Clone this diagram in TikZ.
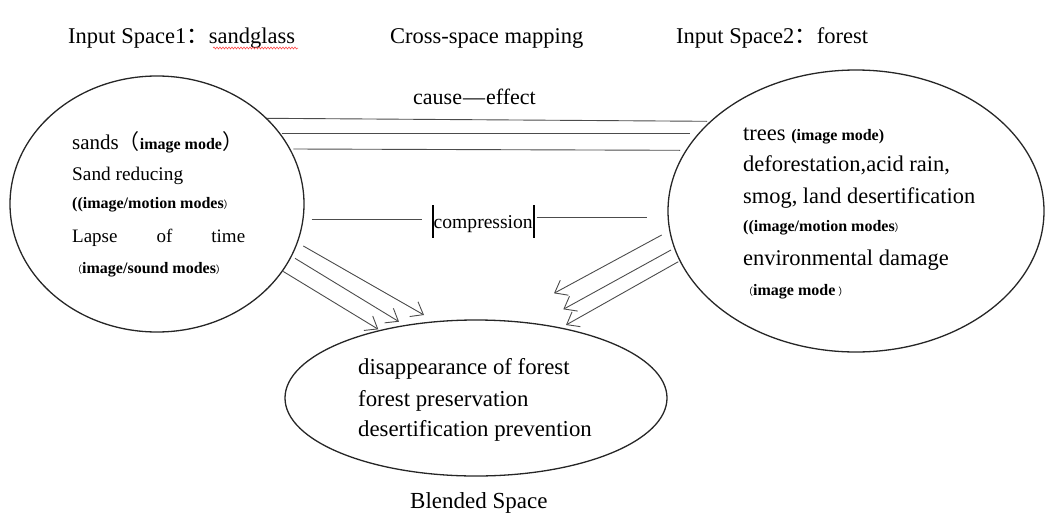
\documentclass[tikz,border=0pt]{standalone}
\usepackage{fontspec}
\setmainfont{Liberation Serif}
\newfontfamily\cjk{Noto Sans CJK SC}
\usetikzlibrary{shapes.geometric,arrows.meta,decorations.pathmorphing}
\newcommand\md[1]{{\bfseries\fontsize{16}{16}\selectfont #1}}
\newcommand\flp{{\cjk （}}
\newcommand\frp{{\cjk ）}}
\newcommand\fcol{{\cjk ：}}
\newcommand\sz[1]{\fontsize{#1}{#1}\selectfont}
\begin{document}
\begin{tikzpicture}[x=1pt,y=-1pt,
  ell/.style={draw=black!85, line width=1.3pt, ellipse, inner sep=0pt},
  txt/.style={anchor=base west, inner sep=0pt, text=black, font=\rmfamily},
  link/.style={draw=black!70, line width=0.9pt},
  arr/.style={draw=black!70, line width=0.9pt, -{Straight Barb[length=11pt,width=17pt,line width=0.9pt]}},
  bar/.style={draw=black, line width=2.2pt}]
\useasboundingbox (0,0) rectangle (1046,514);
% ellipses
\node[ell, minimum width=294pt, minimum height=256pt] (L) at (157,204) {};
\node[ell, minimum width=376pt, minimum height=282pt] (R) at (856,211) {};
\node[ell, minimum width=382pt, minimum height=156pt] (B) at (476,398) {};
% headers
\node[txt] (h1) at (68,43) {\sz{22.5}Input Space1\fcol sandglass};
\node[txt] (h2) at (390,43) {\sz{22.5}Cross-space mapping};
\node[txt] (h3) at (676,43) {\sz{22.5}Input Space2\fcol forest};
\draw[red!80, line width=0.5pt, decorate, decoration={snake, amplitude=1pt, segment length=3pt}] (213,48) -- (298,48);
% cause-effect
\node[txt] (ce) at (413,104) {\sz{22}cause\kern1pt---\kern1pt effect};
\coordinate (a1) at (267,118.3); \coordinate (b1) at (707,121.3);
\coordinate (a2) at (281.7,133.3); \coordinate (b2) at (690,133.3);
\coordinate (a3) at (293.3,149); \coordinate (b3) at (680,150.3);
\draw[link] (a1) -- (b1);
\draw[link] (a2) -- (b2);
\draw[link] (a3) -- (b3);
% compression
\node[txt] (cp) at (433.5,228.3) {\sz{19.6}compression};
\coordinate (c1) at (311.7,219.3); \coordinate (c2) at (421.7,219.3);
\coordinate (c3) at (536.7,217.3); \coordinate (c4) at (646.7,217.3);
\draw[link] (c1) -- (c2);
\draw[link] (c3) -- (c4);
\draw[bar] ([xshift=-0.5pt]cp.west |- 0,205) -- ([xshift=-0.5pt]cp.west |- 0,238);
\draw[bar] ([xshift=0.8pt]cp.east |- 0,205) -- ([xshift=0.8pt]cp.east |- 0,238);
% arrows left
\coordinate (la1) at (303.3,246); \coordinate (lb1) at (424,315);
\coordinate (la2) at (295,258.3); \coordinate (lb2) at (399,321.7);
\coordinate (la3) at (283.3,271.5); \coordinate (lb3) at (378.3,329.3);
\draw[arr] (la1) -- (lb1);
\draw[arr] (la2) -- (lb2);
\draw[arr] (la3) -- (lb3);
% arrows right
\coordinate (ra1) at (661.7,235); \coordinate (rb1) at (554,293.3);
\coordinate (ra2) at (671,250); \coordinate (rb2) at (563.3,309.3);
\coordinate (ra3) at (678.3,261.7); \coordinate (rb3) at (566,325);
\draw[arr] (ra1) -- (rb1);
\draw[arr] (ra2) -- (rb2);
\draw[arr] (ra3) -- (rb3);
% left text
\node[txt] (l1) at (72,149) {\sz{21}sands\flp\md{image mode}\frp};
\node[txt] (l2) at (72,180.7) {\sz{19.3}Sand reducing};
\node[txt] (l3) at (72,208.3) {\md{((image/motion modes}\frp};
\node[txt] (l4) at (72,242.7) {\sz{19}\makebox[173pt][s]{Lapse\hfill of\hfill time}};
\node[txt] (l5) at (72,273.3) {\flp\md{image/sound modes}\frp};
% right text
\node[txt] (r1) at (743,140.7) {\sz{22.5}trees \md{(image mode)}};
\node[txt] (r2) at (743,171.7) {\sz{22.5}deforestation,acid rain,};
\node[txt] (r3) at (743,203.3) {\sz{22.4}smog, land desertification};
\node[txt] (r4) at (743,231.7) {\md{((image/motion modes}\frp};
\node[txt] (r5) at (743,265) {\sz{22.5}environmental damage};
\node[txt] (r6) at (743,295) {\flp\md{image mode}\kern3pt\frp};
% bottom text
\node[txt] (b1t) at (358,374) {\sz{22.8}disappearance of forest};
\node[txt] (b2t) at (358,406) {\sz{22.8}forest preservation};
\node[txt] (b3t) at (358,436.7) {\sz{22.8}desertification prevention};
\node[txt] (bl) at (410,508) {\sz{23}Blended Space};
\end{tikzpicture}
\end{document}
